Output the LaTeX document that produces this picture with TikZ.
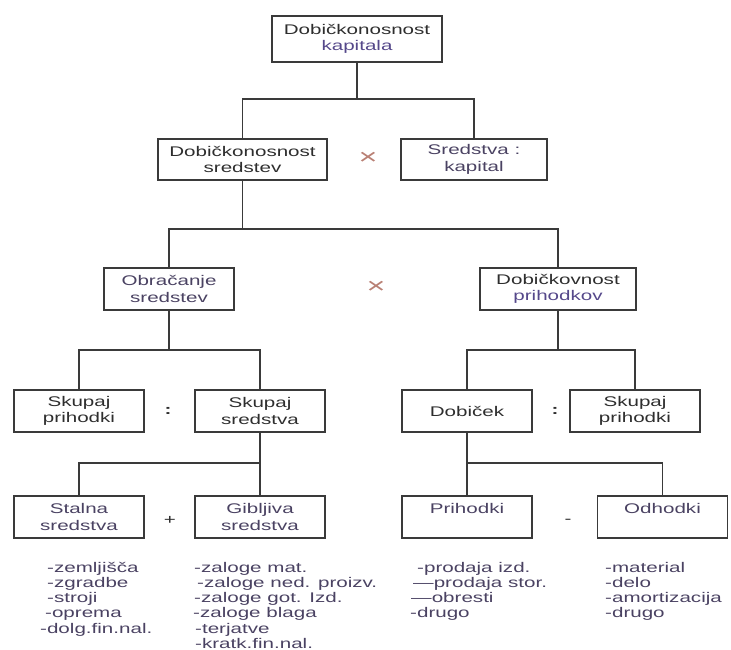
\documentclass[tikz,border=0pt]{standalone}
\usepackage{fontspec}
\setmainfont{Liberation Sans}[FakeStretch=1.47]
\definecolor{crta}{HTML}{3A3A3A}
\definecolor{crn}{HTML}{2E2E2E}
\definecolor{vijol}{HTML}{55488A}
\definecolor{sivi}{HTML}{4A4262}
\definecolor{znak}{HTML}{B98074}

\begin{document}
\begin{tikzpicture}[
  x=1pt, y=-1pt,
  font=\fontsize{14}{16.5}\selectfont,
  box/.style={draw=crta, line width=1.6pt, align=center, inner sep=2pt, minimum height=42pt, text=crn},
  siroka/.style={box, minimum width=130pt},
  veja/.style={draw=crta, line width=1.8pt},
  znakl/.style={text=znak, font=\fontsize{22}{22}\selectfont},
  seznam/.style={align=left, anchor=north west, inner sep=0pt, text=sivi, font=\fontsize{14}{15.2}\selectfont}
]
\useasboundingbox (0,0) rectangle (731,650);

% 1. nivo
\node[box, minimum width=170pt, minimum height=46pt] (kap) at (357,39) {Dobičkonosnost\\\textcolor{vijol}{kapitala}};

% 2. nivo
\node[box, minimum width=169pt, minimum height=41pt] (sred) at (242.5,159.5) {Dobičkonosnost\\sredstev};
\node[box, minimum width=146pt, minimum height=41pt, text=sivi] (skap) at (474,159.5) {Sredstva :\\kapital};
\node[znakl] (x1) at (368,158) {×};

% 3. nivo
\node[siroka, text=sivi] (obr) at (169,289) {Obračanje\\sredstev};
\node[box, minimum width=156pt] (dpr) at (558,289) {Dobičkovnost\\\textcolor{vijol}{prihodkov}};
\node[znakl] (x2) at (376,287) {×};

% 4. nivo
\node[siroka] (sp1) at (79,411) {Skupaj\\prihodki};
\node[siroka] (ss) at (260,411) {Skupaj\\sredstva};
\node[siroka] (dob) at (467,411) {Dobiček};
\node[siroka] (sp2) at (635,411) {Skupaj\\prihodki};
\node[text=crn] (d1) at (168,411) {\textbf{:}};
\node[text=crn] (d2) at (555,411) {\textbf{:}};

% 5. nivo
\node[siroka, text=sivi] (stal) at (79,517) {Stalna\\sredstva};
\node[siroka, text=sivi] (gib) at (260,517) {Gibljiva\\sredstva};
\node[siroka, text=sivi] (prih) at (467,517) {Prihodki\\\mbox{}};
\node[siroka, text=sivi] (odh) at (662.5,517) {Odhodki\\\mbox{}};
\node[text=crn] (plus) at (170,520) {+};
\node[text=crn] (minus) at (568,521) {-};

% povezave
\draw[veja] (kap.south) -- ++(0,36) -| (sred.north);
\draw[veja] (kap.south) -- ++(0,36) -| (skap.north);
\draw[veja] (sred.south) -- ++(0,48) -| (obr.north);
\draw[veja] (sred.south) -- ++(0,48) -| (dpr.north);
\draw[veja] (obr.south) -- ++(0,39) -| (sp1.north);
\draw[veja] (obr.south) -- ++(0,39) -| (ss.north);
\draw[veja] (dpr.south) -- ++(0,39) -| (dob.north);
\draw[veja] (dpr.south) -- ++(0,39) -| (sp2.north);
\draw[veja] (ss.south) -- ++(0,30) -| (stal.north);
\draw[veja] (ss.south) -- ++(0,30) -| (gib.north);
\draw[veja] (dob.south) -- ++(0,30) -| (prih.north);
\draw[veja] (dob.south) -- ++(0,30) -| (odh.north);

% seznami
\node[seznam] (l1) at (40,562) {\hspace*{7pt}-zemljišča\\\hspace*{7pt}-zgradbe\\\hspace*{7pt}-stroji\\\hspace*{5pt}-oprema\\-dolg.fin.nal.};
\node[seznam] (l2) at (193,562) {\hspace*{1pt}-zaloge mat.\\\hspace*{4pt}-zaloge ned. proizv.\\\hspace*{1pt}-zaloge got. Izd.\\-zaloge blaga\\\hspace*{2pt}-terjatve\\\hspace*{2pt}-kratk.fin.nal.};
\node[seznam] (l3) at (410,562) {\hspace*{7pt}-prodaja izd.\\\hspace*{3pt}—prodaja stor.\\\hspace*{1pt}—obresti\\-drugo};
\node[seznam] (l4) at (605,562) {-material\\-delo\\-amortizacija\\-drugo};

\end{tikzpicture}
\end{document}
